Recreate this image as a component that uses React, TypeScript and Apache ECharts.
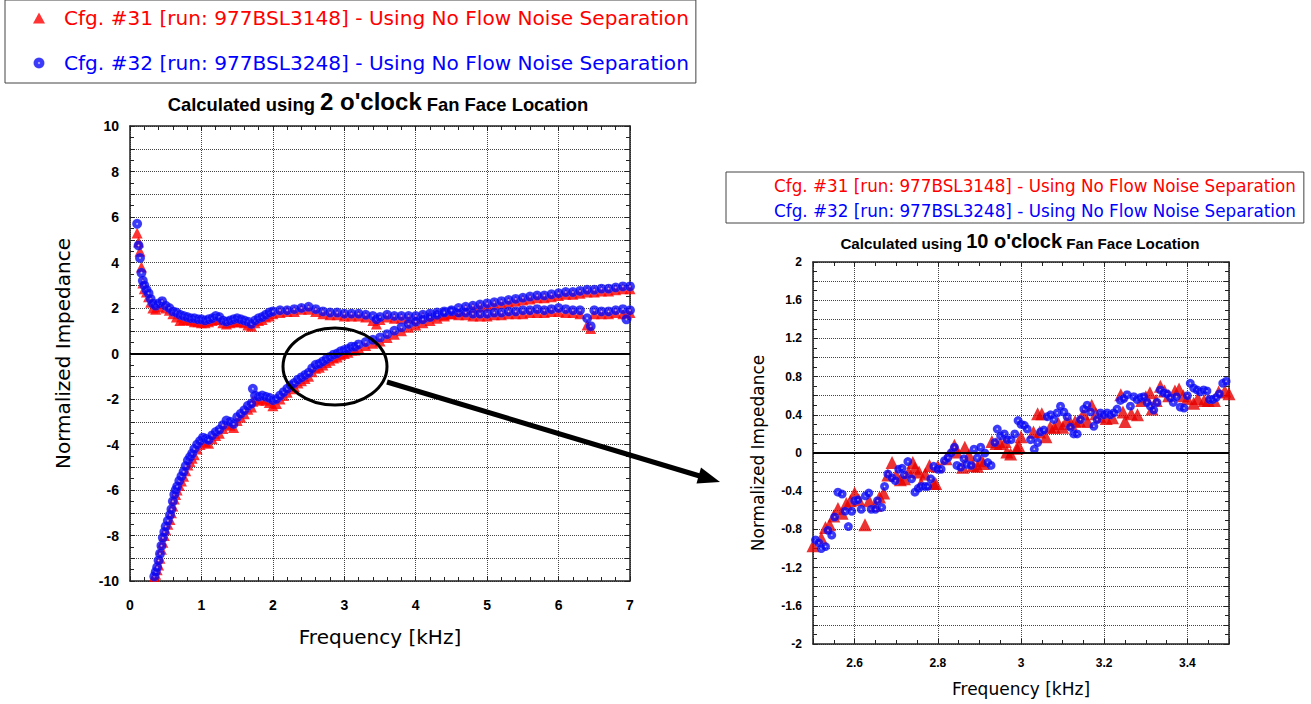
import React, { useEffect, useRef } from 'react';
import * as echarts from 'echarts';

// ---------- Left chart (2 o'clock) : upper branch ----------
const upperFreq = [
  0.10, 0.12, 0.14, 0.16, 0.18, 0.20, 0.23, 0.26, 0.29, 0.32,
  0.36, 0.40, 0.45, 0.50, 0.55, 0.60, 0.65, 0.70, 0.75, 0.80,
  0.85, 0.90, 0.95, 1.00, 1.05, 1.10, 1.15, 1.20, 1.25, 1.30,
  1.35, 1.40, 1.45, 1.50, 1.55, 1.60, 1.65, 1.70, 1.75, 1.80,
  1.85, 1.90, 1.95, 2.00, 2.10, 2.20, 2.30, 2.40, 2.50, 2.60,
  2.70, 2.80, 2.90, 3.00, 3.10, 3.20, 3.30, 3.40, 3.45, 3.50,
  3.60, 3.70, 3.80, 3.90, 4.00, 4.10, 4.20, 4.30, 4.40, 4.50,
  4.60, 4.70, 4.80, 4.90, 5.00, 5.10, 5.20, 5.30, 5.40, 5.50,
  5.60, 5.70, 5.80, 5.90, 6.00, 6.10, 6.20, 6.30, 6.40, 6.45,
  6.50, 6.60, 6.70, 6.80, 6.90, 6.95, 7.00,
];
const upperBlue = [
  5.7, 4.75, 4.2, 3.55, 3.2, 3.0, 2.8, 2.65, 2.4, 2.2,
  2.1, 2.2, 2.3, 2.1, 2.0, 1.85, 1.8, 1.7, 1.65, 1.6,
  1.55, 1.55, 1.5, 1.5, 1.45, 1.5, 1.55, 1.65, 1.6, 1.45,
  1.4, 1.45, 1.5, 1.55, 1.5, 1.45, 1.4, 1.3, 1.45, 1.55,
  1.6, 1.7, 1.8, 1.85, 1.9, 1.9, 1.95, 2.0, 2.05, 1.95,
  1.85, 1.8, 1.8, 1.75, 1.75, 1.75, 1.7, 1.65, 1.5, 1.6,
  1.7, 1.65, 1.65, 1.65, 1.65, 1.7, 1.75, 1.8, 1.85, 1.85,
  1.8, 1.8, 1.75, 1.75, 1.75, 1.8, 1.8, 1.85, 1.85, 1.9,
  1.9, 1.95, 1.9, 1.95, 2.0, 1.95, 1.9, 1.9, 1.55, 1.2,
  1.9, 1.85, 1.85, 1.9, 1.95, 1.5, 1.9,
];
const upperRed = [
  5.3, 4.9, 4.5, 3.8, 3.1, 2.85, 2.7, 2.5, 2.25, 2.0,
  1.95, 2.05, 2.2, 2.0, 1.9, 1.75, 1.6, 1.45, 1.5, 1.5,
  1.45, 1.4, 1.4, 1.35, 1.35, 1.4, 1.45, 1.5, 1.5, 1.35,
  1.3, 1.35, 1.4, 1.4, 1.4, 1.35, 1.25, 1.2, 1.35, 1.45,
  1.5, 1.6, 1.65, 1.75, 1.8, 1.85, 1.85, 1.95, 1.95, 1.85,
  1.75, 1.7, 1.7, 1.65, 1.65, 1.65, 1.6, 1.45, 1.3, 1.5,
  1.6, 1.55, 1.55, 1.55, 1.55, 1.6, 1.65, 1.7, 1.7, 1.75,
  1.7, 1.7, 1.65, 1.65, 1.65, 1.7, 1.7, 1.75, 1.75, 1.75,
  1.8, 1.8, 1.8, 1.85, 1.85, 1.8, 1.8, 1.75, 1.25, 1.1,
  1.75, 1.75, 1.75, 1.8, 1.75, 1.75, 1.8,
];

// ---------- Left chart : lower (rising) branch ----------
const lowerFreq = [
  0.34, 0.36, 0.38, 0.40, 0.42, 0.44, 0.46, 0.48, 0.50, 0.53,
  0.56, 0.58, 0.60, 0.62, 0.64, 0.66, 0.69, 0.72, 0.75, 0.78,
  0.81, 0.84, 0.87, 0.90, 0.94, 0.98, 1.02, 1.06, 1.10, 1.15,
  1.20, 1.25, 1.30, 1.35, 1.40, 1.45, 1.50, 1.55, 1.60, 1.65,
  1.70, 1.72, 1.75, 1.80, 1.85, 1.90, 1.95, 2.00, 2.05, 2.10,
  2.15, 2.20, 2.25, 2.30, 2.35, 2.40, 2.45, 2.50, 2.55, 2.60,
  2.65, 2.70, 2.75, 2.80, 2.85, 2.90, 2.95, 3.00, 3.05, 3.10,
  3.15, 3.20, 3.30, 3.40, 3.50, 3.60, 3.70, 3.80, 3.90, 4.00,
  4.10, 4.20, 4.30, 4.40, 4.50, 4.60, 4.70, 4.80, 4.90, 5.00,
  5.10, 5.20, 5.30, 5.40, 5.50, 5.60, 5.70, 5.80, 5.90, 6.00,
  6.10, 6.20, 6.30, 6.40, 6.50, 6.60, 6.70, 6.80, 6.90, 7.00,
];
const lowerBlue = [
  -9.8, -9.6, -9.4, -9.1, -8.8, -8.45, -8.1, -7.85, -7.6, -7.35,
  -7.1, -6.85, -6.5, -6.2, -6.0, -5.85, -5.6, -5.4, -5.2, -4.95,
  -4.7, -4.55, -4.4, -4.2, -4.0, -3.85, -3.7, -3.75, -3.8, -3.6,
  -3.45, -3.35, -3.15, -2.95, -3.0, -3.1, -2.8, -2.65, -2.5, -2.3,
  -2.2, -1.55, -1.85, -1.9, -1.85, -1.9, -1.95, -2.05, -2.0, -1.85,
  -1.7, -1.55, -1.4, -1.3, -1.15, -1.05, -0.95, -0.85, -0.65, -0.5,
  -0.45, -0.35, -0.25, -0.15, -0.05, 0.0, 0.1, 0.15, 0.2, 0.3,
  0.3, 0.4, 0.5, 0.6, 0.7, 0.85, 1.0, 1.15, 1.3, 1.4,
  1.5, 1.6, 1.7, 1.8, 1.9, 2.0, 2.05, 2.1, 2.15, 2.2,
  2.25, 2.3, 2.35, 2.4, 2.45, 2.5, 2.55, 2.55, 2.6, 2.65,
  2.7, 2.7, 2.75, 2.8, 2.8, 2.85, 2.85, 2.9, 2.95, 2.95,
];
const lowerRed = [
  -9.8, -9.7, -9.5, -9.3, -9.0, -8.6, -8.3, -8.0, -7.75, -7.5,
  -7.3, -7.0, -6.7, -6.4, -6.2, -6.0, -5.8, -5.6, -5.4, -5.15,
  -4.9, -4.75, -4.6, -4.45, -4.2, -4.0, -3.85, -3.9, -3.95, -3.75,
  -3.6, -3.5, -3.3, -3.1, -3.15, -3.25, -2.95, -2.8, -2.65, -2.45,
  -2.35, -2.1, -2.0, -2.05, -2.0, -2.05, -2.15, -2.3, -2.2, -2.0,
  -1.85, -1.7, -1.55, -1.45, -1.3, -1.2, -1.1, -1.0, -0.8, -0.65,
  -0.6, -0.5, -0.4, -0.3, -0.2, -0.15, -0.05, 0.0, 0.05, 0.15,
  0.15, 0.25, 0.35, 0.45, 0.55, 0.7, 0.85, 1.0, 1.15, 1.25,
  1.35, 1.45, 1.55, 1.65, 1.75, 1.85, 1.95, 2.0, 2.05, 2.1,
  2.15, 2.2, 2.25, 2.3, 2.35, 2.4, 2.45, 2.45, 2.5, 2.55,
  2.6, 2.6, 2.65, 2.7, 2.7, 2.75, 2.75, 2.8, 2.85, 2.85,
];

// ---------- Right chart (10 o'clock, zoomed 2.5-3.5 kHz) ----------
const zoomRedFreq = [
  2.50, 2.52, 2.53, 2.54, 2.55, 2.56, 2.57, 2.58, 2.59, 2.60,
  2.61, 2.625, 2.635, 2.65, 2.66, 2.67, 2.68, 2.69, 2.70, 2.71,
  2.72, 2.73, 2.74, 2.745, 2.755, 2.76, 2.77, 2.78, 2.79, 2.795,
  2.80, 2.82, 2.84, 2.845, 2.86, 2.865, 2.875, 2.885, 2.895, 2.905,
  2.91, 2.93, 2.94, 2.95, 2.962, 2.966, 2.975, 2.99, 2.995, 3.00,
  3.03, 3.04, 3.045, 3.05, 3.06, 3.07, 3.08, 3.09, 3.10, 3.11,
  3.12, 3.13, 3.14, 3.15, 3.16, 3.17, 3.18, 3.19, 3.205, 3.22,
  3.24, 3.245, 3.25, 3.265, 3.28, 3.29, 3.30, 3.31, 3.315, 3.325,
  3.335, 3.345, 3.355, 3.37, 3.38, 3.39, 3.40, 3.415, 3.425, 3.44,
  3.45, 3.465, 3.475, 3.49, 3.50,
];
const zoomRed = [
  -0.97, -0.89, -0.78, -0.75, -0.66, -0.58, -0.63, -0.53, -0.5, -0.42,
  -0.49, -0.75, -0.5, -0.55, -0.46, -0.42, -0.23, -0.1, -0.23, -0.28,
  -0.27, -0.2, -0.1, -0.16, -0.2, -0.32, -0.22, -0.13, -0.32, -0.32,
  -0.14, -0.06, 0.08, 0.01, -0.15, 0.06, -0.02, -0.13, -0.14, -0.08,
  -0.11, 0.12, 0.1, 0.1, 0.12, 0.01, -0.01, 0.05, 0.07, 0.17,
  0.22, 0.41, 0.22, 0.41, 0.17, 0.27, 0.27, 0.31, 0.27, 0.34,
  0.31, 0.33, 0.34, 0.41, 0.33, 0.5, 0.41, 0.38, 0.36, 0.37,
  0.61, 0.43, 0.33, 0.41, 0.4, 0.55, 0.59, 0.63, 0.46, 0.55,
  0.7, 0.65, 0.6, 0.65, 0.67, 0.6, 0.57, 0.52, 0.57, 0.55,
  0.55, 0.55, 0.64, 0.65, 0.62,
];
const zoomBlueFreq = [
  2.506, 2.514, 2.52, 2.53, 2.536, 2.545, 2.552, 2.56, 2.57, 2.577,
  2.585, 2.593, 2.60, 2.608, 2.616, 2.626, 2.634, 2.64, 2.65, 2.655,
  2.665, 2.672, 2.68, 2.69, 2.698, 2.706, 2.714, 2.72, 2.728, 2.737,
  2.745, 2.753, 2.76, 2.769, 2.776, 2.783, 2.79, 2.80, 2.808, 2.816,
  2.824, 2.832, 2.84, 2.846, 2.855, 2.863, 2.87, 2.88, 2.887, 2.895,
  2.903, 2.913, 2.92, 2.928, 2.937, 2.943, 2.951, 2.96, 2.967, 2.976,
  2.985, 2.993, 3.00, 3.008, 3.015, 3.023, 3.032, 3.04, 3.047, 3.055,
  3.063, 3.071, 3.079, 3.087, 3.095, 3.103, 3.111, 3.119, 3.127, 3.135,
  3.143, 3.151, 3.159, 3.167, 3.175, 3.183, 3.191, 3.199, 3.207, 3.215,
  3.223, 3.231, 3.239, 3.247, 3.255, 3.263, 3.271, 3.279, 3.287, 3.295,
  3.303, 3.311, 3.319, 3.327, 3.335, 3.343, 3.351, 3.359, 3.366, 3.374,
  3.383, 3.392, 3.40, 3.407, 3.415, 3.423, 3.431, 3.439, 3.447, 3.453,
  3.461, 3.469, 3.477, 3.485, 3.493,
];
const zoomBlue = [
  -0.91, -0.94, -1.0, -0.98, -0.81, -0.86, -0.67, -0.41, -0.43, -0.61,
  -0.77, -0.61, -0.5, -0.49, -0.59, -0.45, -0.42, -0.59, -0.59, -0.5,
  -0.57, -0.35, -0.22, -0.26, -0.29, -0.17, -0.16, -0.23, -0.09, -0.27,
  -0.41, -0.37, -0.35, -0.35, -0.35, -0.27, -0.14, -0.17, -0.17, -0.08,
  -0.05, 0.0, 0.06, -0.13, -0.15, -0.06, -0.12, -0.13, 0.04, -0.05,
  0.06, 0.0, -0.1, -0.13, 0.11, 0.25, 0.18, 0.2, 0.14, 0.14,
  0.2, 0.34, 0.3, 0.29, 0.25, 0.14, 0.04, 0.11, 0.22, 0.24,
  0.38, 0.4, 0.35, 0.42, 0.49, 0.43, 0.38, 0.27, 0.2, 0.2,
  0.35, 0.46, 0.5, 0.43, 0.28, 0.35, 0.42, 0.4, 0.42, 0.4,
  0.42, 0.46, 0.55, 0.57, 0.61, 0.49, 0.59, 0.56, 0.58, 0.59,
  0.53, 0.49, 0.45, 0.53, 0.66, 0.63, 0.62, 0.58, 0.53, 0.59,
  0.48, 0.47, 0.6, 0.73, 0.68, 0.66, 0.64, 0.66, 0.65, 0.56,
  0.56, 0.58, 0.62, 0.73, 0.75,
];

const NAME_31 = 'Cfg. #31 [run: 977BSL3148] - Using No Flow Noise Separation';
const NAME_32 = 'Cfg. #32 [run: 977BSL3248] - Using No Flow Noise Separation';

const zip = (xs: number[], ys: number[]) => xs.map((x, i) => [x, ys[i]]);

const RED = '#ff0000';
const BLUE_FILL = {
  type: 'radial', x: 0.5, y: 0.5, r: 0.5,
  colorStops: [
    { offset: 0, color: '#e8e8ff' },
    { offset: 0.12, color: '#9090ff' },
    { offset: 0.3, color: '#0808ff' },
    { offset: 0.85, color: '#0a0af0' },
    { offset: 1, color: '#3a3aff' },
  ],
};

const TICK_FONT = 'Liberation Sans';
const TEXT_FONT = 'DejaVu Sans';
const FRAME = '#222';

function frameAxis(gridIndex: number, pos: string, min: number, max: number, extra: any, minorSplit: number, tickLen: number) {
  return {
    type: 'value', gridIndex, position: pos, min, max,
    axisLine: { show: true, onZero: false, lineStyle: { color: FRAME, width: 1.5 } },
    axisTick: { show: true, inside: true, length: tickLen, lineStyle: { color: FRAME, width: 1 } },
    minorTick: { show: true, splitNumber: minorSplit, length: tickLen - 1, lineStyle: { color: FRAME, width: 1 } },
    axisLabel: { show: false },
    splitLine: { show: false },
    ...extra,
  };
}

const DOTTED = { show: true, lineStyle: { color: '#444', type: 'dotted', width: 1 } };

export default function App() {
  const ref = useRef<HTMLDivElement>(null);
  useEffect(() => {
    if (!ref.current) return;
    const chart = echarts.init(ref.current, undefined, { renderer: 'svg' });

    const leftXLabel = { show: true, fontFamily: TICK_FONT, fontWeight: 'bold', fontSize: 14, color: '#000', margin: 17 };
    const leftYLabel = {
      show: true, fontFamily: TICK_FONT, fontWeight: 'bold', fontSize: 14, color: '#000', margin: 11,
      formatter: (v: number) => (Math.round(v) % 2 === 0 ? String(Math.round(v)) : ''),
    };
    const rightXLabel = { show: true, fontFamily: TICK_FONT, fontWeight: 'bold', fontSize: 12, color: '#000', margin: 13, showMinLabel: false, showMaxLabel: false };
    const rightYLabel = {
      show: true, fontFamily: TICK_FONT, fontWeight: 'bold', fontSize: 12, color: '#000', margin: 11,
      formatter: (v: number) => (Math.round(v * 10) % 4 === 0 ? String(Math.round(v * 10) / 10) : ''),
    };
    const nameStyleL = { fontFamily: TEXT_FONT, fontSize: 20, color: '#000' };
    const nameStyleR = { fontFamily: TEXT_FONT, fontSize: 17, color: '#000' };

    const zeroLine = {
      silent: true, symbol: ['none', 'none'], label: { show: false },
      lineStyle: { color: '#000', width: 2, type: 'solid' },
      data: [{ yAxis: 0 }],
    };

    const option: any = {
      animation: false,
      backgroundColor: '#fff',
      title: [
        {
          text: "{a|Calculated using }{b|2 o'clock}{a| Fan Face Location}",
          left: 373, top: 84, textAlign: 'center',
          textStyle: {
            rich: {
              a: { fontFamily: TICK_FONT, fontWeight: 'bold', fontSize: 18.4, color: '#000', verticalAlign: 'bottom' },
              b: { fontFamily: TICK_FONT, fontWeight: 'bold', fontSize: 24, color: '#000', verticalAlign: 'bottom' },
            },
          },
        },
        {
          text: "{a|Calculated using }{b|10 o'clock}{a| Fan Face Location}",
          left: 1015, top: 226, textAlign: 'center',
          textStyle: {
            rich: {
              a: { fontFamily: TICK_FONT, fontWeight: 'bold', fontSize: 15.2, color: '#000', verticalAlign: 'bottom' },
              b: { fontFamily: TICK_FONT, fontWeight: 'bold', fontSize: 20, color: '#000', verticalAlign: 'bottom' },
            },
          },
        },
      ],
      legend: [
        {
          left: 5, top: 0, orient: 'vertical', selectedMode: false,
          data: [
            { name: NAME_31, icon: 'triangle', textStyle: { color: '#ff0000' } },
            { name: NAME_32, icon: 'circle', textStyle: { color: '#0000ff' } },
          ],
          itemWidth: 12, itemHeight: 11, itemGap: 23,
          padding: [7, 7, 9, 28],
          borderColor: '#444', borderWidth: 1, backgroundColor: '#fff',
          textStyle: { fontFamily: TEXT_FONT, fontSize: 20.1, lineHeight: 22, padding: [0, 0, 0, 14] },
        },
        {
          left: 726, top: 172, orient: 'vertical', selectedMode: false,
          data: [
            { name: NAME_31, icon: 'none', textStyle: { color: '#ff0000' } },
            { name: NAME_32, icon: 'none', textStyle: { color: '#0000ff' } },
          ],
          itemWidth: 0, itemHeight: 10, itemGap: 6,
          padding: [4, 8, 3, 43],
          borderColor: '#444', borderWidth: 1, backgroundColor: '#fff',
          textStyle: { fontFamily: TEXT_FONT, fontSize: 16.8, lineHeight: 19 },
        },
      ],
      grid: [
        { left: 130, top: 126, width: 500, height: 455 },
        { left: 813, top: 262, width: 416, height: 382 },
      ],
      xAxis: [
        frameAxis(0, 'bottom', 0, 7, {
          interval: 1, axisLabel: leftXLabel, splitLine: DOTTED,
          name: 'Frequency [kHz]', nameLocation: 'middle', nameGap: 46, nameTextStyle: nameStyleL,
        }, 5, 5),
        frameAxis(0, 'top', 0, 7, { interval: 1 }, 5, 5),
        frameAxis(1, 'bottom', 2.5, 3.5, {
          splitNumber: 5, axisLabel: rightXLabel, splitLine: DOTTED,
          name: 'Frequency [kHz]', nameLocation: 'middle', nameGap: 36, nameTextStyle: nameStyleR,
        }, 4, 5),
        frameAxis(1, 'top', 2.5, 3.5, { splitNumber: 5 }, 4, 5),
      ],
      yAxis: [
        frameAxis(0, 'left', -10, 10, {
          interval: 1, axisLabel: leftYLabel, splitLine: DOTTED,
          name: 'Normalized Impedance', nameLocation: 'middle', nameGap: 57, nameTextStyle: nameStyleL,
        }, 2, 5),
        frameAxis(0, 'right', -10, 10, { interval: 1 }, 2, 5),
        frameAxis(1, 'left', -2, 2, {
          interval: 0.2, axisLabel: rightYLabel, splitLine: DOTTED,
          name: 'Normalized Impedance', nameLocation: 'middle', nameGap: 47, nameTextStyle: nameStyleR,
        }, 2, 5),
        frameAxis(1, 'right', -2, 2, { interval: 0.2 }, 2, 5),
      ],
      series: [
        {
          name: NAME_31, type: 'scatter', xAxisIndex: 0, yAxisIndex: 0,
          symbol: 'triangle', symbolSize: 11, itemStyle: { color: RED },
          data: [...zip(upperFreq, upperRed), ...zip(lowerFreq, lowerRed)],
          markLine: zeroLine, z: 2,
        },
        {
          name: NAME_32, type: 'scatter', xAxisIndex: 0, yAxisIndex: 0,
          symbol: 'circle', symbolSize: 10, itemStyle: { color: BLUE_FILL },
          data: [...zip(upperFreq, upperBlue), ...zip(lowerFreq, lowerBlue)], z: 3,
        },
        {
          name: NAME_31, type: 'scatter', xAxisIndex: 2, yAxisIndex: 2,
          symbol: 'triangle', symbolSize: 13, itemStyle: { color: '#e60000' },
          data: zip(zoomRedFreq, zoomRed), markLine: zeroLine, z: 2,
        },
        {
          name: NAME_32, type: 'scatter', xAxisIndex: 2, yAxisIndex: 2,
          symbol: 'circle', symbolSize: 9, itemStyle: { color: BLUE_FILL },
          data: zip(zoomBlueFreq, zoomBlue), z: 3,
        },
      ],
      graphic: [
        {
          type: 'ellipse', z: 100,
          shape: { cx: 335, cy: 366.5, rx: 52, ry: 38.5 },
          style: { fill: 'none', stroke: '#000', lineWidth: 3 },
        },
        {
          type: 'line', z: 100,
          shape: { x1: 387, y1: 382, x2: 703, y2: 477 },
          style: { stroke: '#000', lineWidth: 5 },
        },
        {
          type: 'polygon', z: 100,
          shape: { points: [[720, 482], [701, 467.5], [696.5, 483.5]] },
          style: { fill: '#000' },
        },
      ],
    };
    chart.setOption(option);
    return () => chart.dispose();
  }, []);
  return <div ref={ref} style={{ position: 'absolute', left: 0, top: 0, width: 1311, height: 704 }} />;
}
